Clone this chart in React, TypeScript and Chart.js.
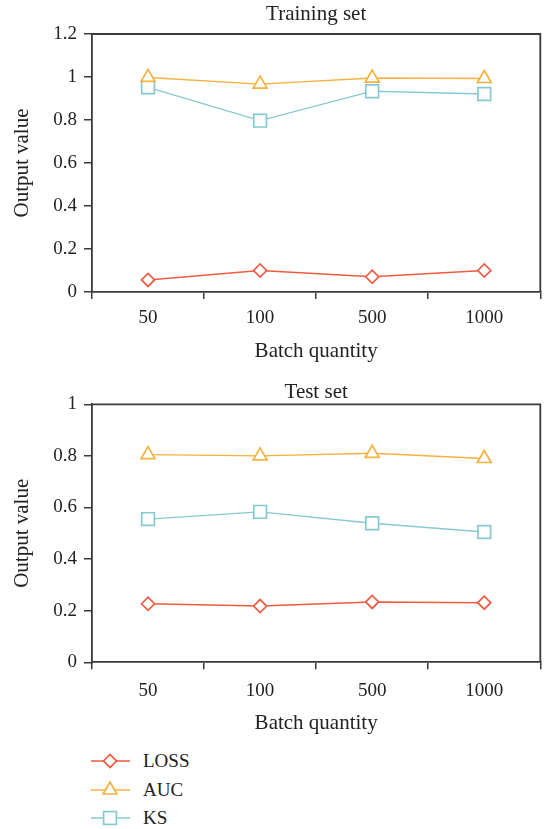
import React, { useEffect, useRef } from 'react';
import { Chart, registerables } from 'chart.js';

Chart.register(...registerables);

// ---------- data ----------
const categories = ['50', '100', '500', '1000'];

const trainLoss = [0.056, 0.1, 0.071, 0.1];
const trainAuc = [0.998, 0.967, 0.995, 0.993];
const trainKs = [0.952, 0.797, 0.934, 0.921];

const testLoss = [0.227, 0.218, 0.234, 0.231];
const testAuc = [0.805, 0.8, 0.81, 0.79];
const testKs = [0.555, 0.583, 0.539, 0.505];

const seriesNames = ['LOSS', 'AUC', 'KS'];
const seriesColors = ['#ee5a40', '#f5b23e', '#86c9d1'];
const pointStyles = ['rectRot', 'triangle', 'rect'];
const pointRadii = [6.5, 8, 9];

const FONT = '"Liberation Serif", "Times New Roman", serif';
const AXIS = '#3a3a3a';
const TEXT = '#222222';

type Panel = {
  title: string;
  loss: number[];
  auc: number[];
  ks: number[];
  yMax: number;
  canvasTop: number;
  canvasHeight: number;
  plotTop: number;
  plotBottom: number;
  titleBaseline: number;
  xTickPad: number;
  xTitlePad: number;
};

const panels: Panel[] = [
  {
    title: 'Training set',
    loss: trainLoss,
    auc: trainAuc,
    ks: trainKs,
    yMax: 1.2,
    canvasTop: 0,
    canvasHeight: 370,
    plotTop: 34,
    plotBottom: 292,
    titleBaseline: 20,
    xTickPad: 10,
    xTitlePad: 6.2,
  },
  {
    title: 'Test set',
    loss: testLoss,
    auc: testAuc,
    ks: testKs,
    yMax: 1,
    canvasTop: 370,
    canvasHeight: 370,
    plotTop: 34.3,
    plotBottom: 292.3,
    titleBaseline: 28,
    xTickPad: 12,
    xTitlePad: 4.4,
  },
];

const framePlugin = {
  id: 'frame',
  afterDraw(chart: any, _args: any, opts: any) {
    const { ctx, chartArea: a } = chart;
    ctx.save();
    ctx.strokeStyle = AXIS;
    ctx.lineWidth = 1.8;
    ctx.beginPath();
    ctx.moveTo(a.left, a.top);
    ctx.lineTo(a.right, a.top);
    ctx.lineTo(a.right, a.bottom);
    ctx.stroke();
    ctx.fillStyle = TEXT;
    ctx.font = `21px ${FONT}`;
    ctx.textAlign = 'center';
    ctx.textBaseline = 'alphabetic';
    ctx.fillText(opts.text, (a.left + a.right) / 2, opts.baseline);
    ctx.restore();
  },
};

function PanelChart({ p }: { p: Panel }) {
  const ref = useRef<HTMLCanvasElement | null>(null);
  useEffect(() => {
    if (!ref.current) return;
    const values = [p.loss, p.auc, p.ks];
    const chart = new Chart(ref.current, {
      type: 'line',
      data: {
        labels: categories,
        datasets: values.map((v, i) => ({
          label: seriesNames[i],
          data: v,
          borderColor: seriesColors[i],
          backgroundColor: '#ffffff',
          borderWidth: 1.4,
          pointStyle: pointStyles[i] as any,
          pointRadius: pointRadii[i],
          pointBorderWidth: 1.7,
          pointBackgroundColor: '#ffffff',
          pointBorderColor: seriesColors[i],
          tension: 0,
          fill: false,
          clip: false as any,
        })),
      },
      options: {
        responsive: false,
        animation: false,
        events: [],
        layout: { padding: { left: 0, right: 8, top: p.plotTop, bottom: 0 } },
        plugins: {
          legend: { display: false },
          tooltip: { enabled: false },
          title: { display: false },
          frame: { text: p.title, baseline: p.titleBaseline },
        } as any,
        scales: {
          x: {
            type: 'category',
            offset: true,
            grid: {
              offset: true,
              drawOnChartArea: false,
              drawTicks: true,
              tickLength: 7,
              color: AXIS,
              lineWidth: 1.5,
            },
            border: { display: true, color: AXIS, width: 1.8 },
            ticks: {
              color: TEXT,
              padding: p.xTickPad,
              font: { family: FONT, size: 19, lineHeight: 1 },
              maxRotation: 0,
            },
            title: {
              display: true,
              text: 'Batch quantity',
              color: TEXT,
              font: { family: FONT, size: 21, lineHeight: 1.2 },
              padding: { top: 0, bottom: p.xTitlePad },
            },
            afterFit: (s: any) => {
              s.height = p.canvasHeight - p.plotBottom;
            },
          },
          y: {
            type: 'linear',
            min: 0,
            max: p.yMax,
            grid: {
              drawOnChartArea: false,
              drawTicks: true,
              tickLength: 8,
              color: AXIS,
              lineWidth: 1.5,
            },
            border: { display: true, color: AXIS, width: 1.8 },
            ticks: {
              stepSize: 0.2,
              color: TEXT,
              padding: 7,
              font: { family: FONT, size: 19 },
              callback: (v: any) => String(Math.round(Number(v) * 10) / 10),
            },
            title: {
              display: true,
              text: 'Output value',
              color: TEXT,
              font: { family: FONT, size: 21, lineHeight: 1.2 },
              padding: { top: 9.4, bottom: 0 },
            },
            afterFit: (s: any) => {
              s.width = 92;
            },
          },
        },
      },
      plugins: [framePlugin],
    });
    return () => chart.destroy();
  }, [p]);
  return (
    <canvas
      ref={ref}
      width={551}
      height={p.canvasHeight}
      style={{
        position: 'absolute',
        left: 0,
        top: p.canvasTop,
        width: 551,
        height: p.canvasHeight,
      }}
    />
  );
}

const legendRows = [761, 790, 818];

function LegendIcon({ i }: { i: number }) {
  const c = seriesColors[i];
  let marker: React.ReactNode = null;
  if (pointStyles[i] === 'rectRot') {
    marker = <polygon points="12.5,12 19,5.5 25.5,12 19,18.5" fill="#fff" stroke={c} strokeWidth={1.7} />;
  } else if (pointStyles[i] === 'triangle') {
    marker = <polygon points="19,4 25.9,16 12.1,16" fill="#fff" stroke={c} strokeWidth={1.7} />;
  } else {
    marker = <rect x={12.6} y={5.6} width={12.8} height={12.8} fill="#fff" stroke={c} strokeWidth={1.7} />;
  }
  return (
    <svg width={40} height={24} style={{ position: 'absolute', left: 91, top: -12 }}>
      <line x1={0} y1={12} x2={39} y2={12} stroke={c} strokeWidth={1.4} />
      {marker}
    </svg>
  );
}

export default function App() {
  return (
    <div
      style={{
        position: 'absolute',
        left: 0,
        top: 0,
        width: 551,
        height: 829,
        background: '#ffffff',
        overflow: 'hidden',
      }}
    >
      {panels.map((p, i) => (
        <PanelChart key={i} p={p} />
      ))}
      {seriesNames.map((name, i) => (
        <div key={name} style={{ position: 'absolute', left: 0, top: legendRows[i], width: 300, height: 0 }}>
          <LegendIcon i={i} />
          <span
            style={{
              position: 'absolute',
              left: 143,
              top: -12,
              lineHeight: '24px',
              fontFamily: FONT,
              fontSize: 19,
              color: TEXT,
              whiteSpace: 'nowrap',
            }}
          >
            {name}
          </span>
        </div>
      ))}
    </div>
  );
}
